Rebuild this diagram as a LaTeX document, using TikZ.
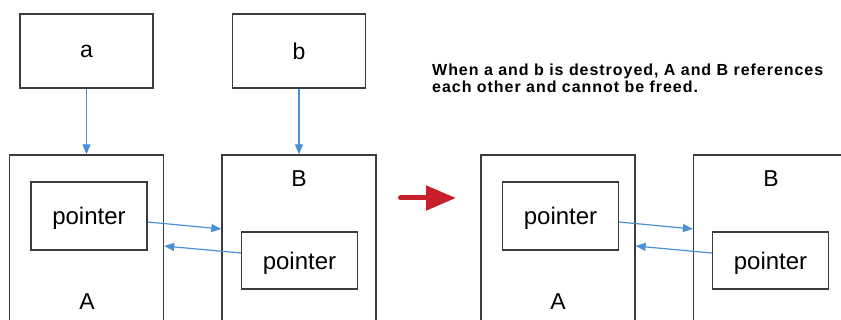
\documentclass[tikz,border=0pt]{standalone}
\usepackage{fontspec}
\setmainfont{Liberation Sans}
\usepackage{tikz}
\usetikzlibrary{positioning,arrows.meta}
\definecolor{boxgray}{HTML}{3C3C3C}
\definecolor{linkblue}{HTML}{4A90D9}
\definecolor{movered}{HTML}{C8202B}
\tikzset{x=1pt,y=-1pt,
  obj/.style={draw=boxgray,line width=1.3pt,minimum width=154pt,minimum height=180pt,inner sep=0pt},
  var/.style={draw=boxgray,line width=1.3pt,minimum width=133pt,minimum height=74pt,font=\fontsize{23}{27}\selectfont},
  ptr/.style={draw=boxgray,line width=1.3pt,minimum width=116pt,text depth=0pt,font=\fontsize{24}{28}\selectfont},
  lbl/.style={font=\fontsize{23}{27}\selectfont},
  link/.style={draw=linkblue,line width=1.2pt,-{Triangle[length=10pt,width=8pt]}},
  move/.style={draw=movered,line width=5pt,line cap=round,-{Triangle[length=30pt,width=24pt]}}}
\begin{document}
\begin{tikzpicture}
    \useasboundingbox (0,0) rectangle (841,320);
    \clip (0,0) rectangle (841,320);
    % before
    \node[var] (a) at (86.5,51) {a};
    \node[var] (b) at (299,51) {b};
    \node[obj] (A) at (86.5,245) {};
    \node[obj] (B) at (299,245) {};
    \node[ptr,minimum height=68pt] (pA) at (89,216) {pointer};
    \node[ptr,minimum height=57pt] (pB) at (299.5,260.5) {pointer};
    \node[lbl] (lA) at (87,302) {A};
    \node[lbl] (lB) at (299,178.5) {B};
    \draw[link] (a) -- (A);
    \draw[link] (b) -- (B);
    \draw[link] ([yshift=-6pt]pA.east) -- ([yshift=16pt]B.west);
    \draw[link] ([yshift=7.5pt]pB.west) -- ([yshift=-1pt]A.east);
    % after
    \coordinate (from) at (400.5,198);
    \coordinate (to) at (456,198);
    \draw[move] (from) -- (to);
    \node[anchor=north west,inner sep=0pt,align=left,
          font=\bfseries\fontsize{16}{17}\selectfont\addfontfeatures{LetterSpace=6}] (note) at (432,64)
        {When a and b is destroyed, A and B references\\each other and cannot be freed.};
    \node[obj] (A2) at (558,245) {};
    \node[obj] (B2) at (770.5,245) {};
    \node[ptr,minimum height=68pt] (pA2) at (560.5,216) {pointer};
    \node[ptr,minimum height=57pt] (pB2) at (770.5,260.5) {pointer};
    \node[lbl] (lA2) at (558,302) {A};
    \node[lbl] (lB2) at (771,178.5) {B};
    \draw[link] ([yshift=-6pt]pA2.east) -- ([yshift=16pt]B2.west);
    \draw[link] ([yshift=7.5pt]pB2.west) -- ([yshift=-1pt]A2.east);
\end{tikzpicture}
\end{document}
